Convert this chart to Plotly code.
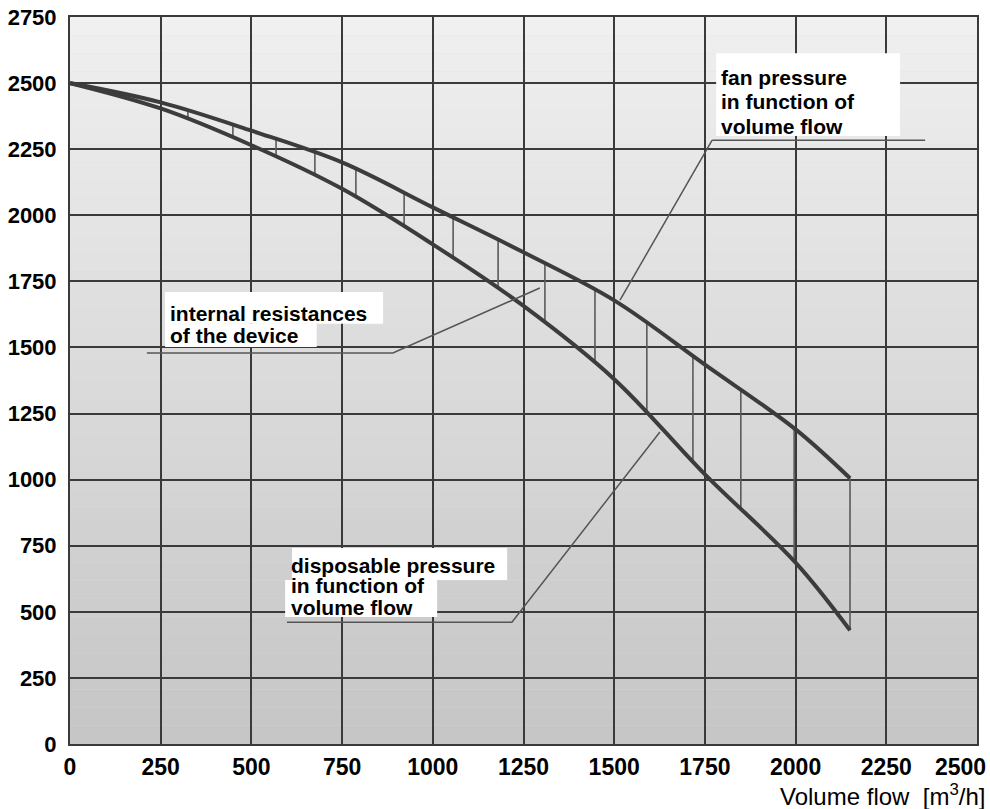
import numpy as np
import plotly.graph_objects as go

# ---- data ----
flow = [0, 250, 500, 750, 1000, 1250, 1500, 1750, 2000, 2150]
fan_pressure = [2500, 2427, 2320, 2200, 2030, 1860, 1678, 1435, 1190, 1005]
disposable_pressure = [2500, 2404, 2265, 2100, 1890, 1657, 1380, 1020, 686, 430]
hatch_flow = [325, 449, 568, 675, 788, 921, 1056, 1180, 1309, 1447, 1590, 1717, 1849, 1996, 2150]

x_ticks = list(range(0, 2501, 250))
y_ticks = list(range(0, 2751, 250))

label_fan = ["fan pressure", "in function of", "volume flow"]
label_internal = ["internal resistances", "of the device"]
label_disp = ["disposable pressure", "in function of", "volume flow"]
axis_title = "Volume flow  [m<sup>3</sup>/h]"

DARK = "#3a3a3a"
FONT = "Liberation Sans, Arial, sans-serif"

W, H = 990, 809
L, R, T, B = 70, 13, 17, 65
pw, ph = W - L - R, H - T - B

def px_to_paper(px, py):
    return (px - L) / pw, (H - B - py) / ph

fig = go.Figure()

# hatch lines between the two curves
hx, hy = [], []
top = np.interp(hatch_flow, flow, fan_pressure)
bot = np.interp(hatch_flow, flow, disposable_pressure)
for xv, t, b in zip(hatch_flow, top, bot):
    hx += [xv, xv, None]
    hy += [t, b, None]
fig.add_trace(go.Scatter(x=hx, y=hy, mode="lines",
                         line=dict(color="#5a5a5a", width=1.6),
                         hoverinfo="skip", showlegend=False))

# curves
fig.add_trace(go.Scatter(x=flow, y=fan_pressure, mode="lines", line_shape="spline",
                         line=dict(color="#3c3c3c", width=4), showlegend=False,
                         name="fan pressure"))
fig.add_trace(go.Scatter(x=flow, y=disposable_pressure, mode="lines", line_shape="spline",
                         line=dict(color="#3c3c3c", width=4), showlegend=False,
                         name="disposable pressure"))

# leader lines
leaders = [
    ([1770, 2357, None, 1770, 1516], [2284, 2284, None, 2284, 1679]),
    ([212, 890, 1295], [1479, 1479, 1725]),
    ([598, 1218, 1626], [461, 461, 1180]),
]
for lx, ly in leaders:
    fig.add_trace(go.Scatter(x=lx, y=ly, mode="lines",
                             line=dict(color="#555555", width=1.5),
                             hoverinfo="skip", showlegend=False))

shapes = []
# gradient background of the plot area
n = 40
c_top = np.array([240, 240, 240])
c_bot = np.array([198, 198, 198])
for i in range(n):
    f = i / (n - 1)
    c = (c_top * (1 - f) + c_bot * f).astype(int)
    shapes.append(dict(type="rect", xref="x domain", yref="y domain",
                       x0=0, x1=1, y0=1 - (i + 1) / n, y1=1 - i / n,
                       fillcolor=f"rgb({c[0]},{c[1]},{c[2]})",
                       line=dict(width=0), layer="below"))

# white label boxes
boxes = [
    (1781, 2288, 2300, 2613),
    (262, 863, 1590, 1710),
    (262, 680, 1502, 1590),
    (612, 1205, 620, 741),
    (593, 1012, 480, 620),
]
for x0, x1, y0, y1 in boxes:
    shapes.append(dict(type="rect", xref="x", yref="y", x0=x0, x1=x1, y0=y0, y1=y1,
                       fillcolor="white", line=dict(width=0), layer="between"))

annotations = []
def add_lines(lines, x, ys):
    for t, yv in zip(lines, ys):
        annotations.append(dict(x=x, y=yv, xref="x", yref="y", text=t, showarrow=False,
                                xanchor="left", yanchor="middle",
                                font=dict(family=FONT, size=21, color="black", weight="bold")))

add_lines(label_fan, 1789, [2523, 2432, 2337])
add_lines(label_internal, 270, [1630, 1547])
add_lines(label_disp, 604, [677, 601, 518])

# x-axis title (bottom right)
tx, ty = px_to_paper(987, 795)
annotations.append(dict(x=tx, y=ty, xref="paper", yref="paper", text=axis_title,
                        showarrow=False, xanchor="right", yanchor="middle",
                        font=dict(family=FONT, size=24, color="black")))
# last x tick label, shifted inside the page as in the reference
lx_, ly_ = px_to_paper(988, 767)
annotations.append(dict(x=lx_, y=ly_, xref="paper", yref="paper", text=str(x_ticks[-1]),
                        showarrow=False, xanchor="right", yanchor="middle",
                        font=dict(family=FONT, size=23, color="black", weight="bold")))

xt_text = [str(v) for v in x_ticks]
xt_text[-1] = ""

fig.update_layout(
    width=W, height=H,
    margin=dict(l=L, r=R, t=T, b=B, autoexpand=False),
    paper_bgcolor="white",
    plot_bgcolor="#dcdcdc",
    shapes=shapes,
    annotations=annotations,
    showlegend=False,
)
fig.update_xaxes(range=[0, 2500], tickvals=x_ticks, ticktext=xt_text,
                 showgrid=True, gridcolor=DARK, gridwidth=2,
                 showline=True, linecolor=DARK, linewidth=2, mirror=True,
                 zeroline=False, ticks="", ticklabelstandoff=1, automargin=False,
                 tickfont=dict(family=FONT, size=23, color="black", weight="bold"))
fig.update_yaxes(range=[0, 2750], tickvals=y_ticks, ticktext=[str(v) for v in y_ticks],
                 showgrid=True, gridcolor=DARK, gridwidth=2,
                 showline=True, linecolor=DARK, linewidth=2, mirror=True,
                 zeroline=False, ticks="", ticklabelstandoff=7, automargin=False,
                 tickfont=dict(family=FONT, size=22, color="black", weight="bold"))

# remove the default 8px page margin so the figure fills the window exactly
fig.write_html("out.html", config={"displayModeBar": False},
               post_script="document.body.style.margin='0';document.body.style.overflow='hidden';")
